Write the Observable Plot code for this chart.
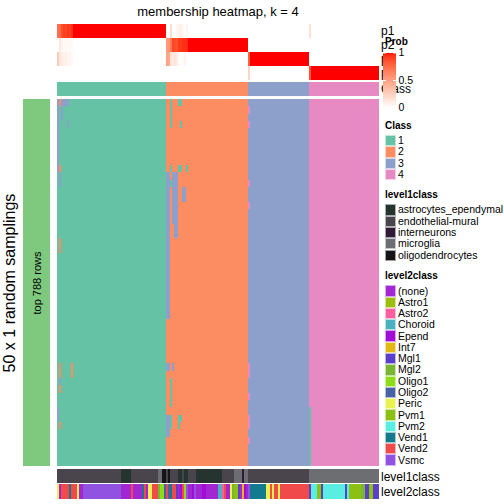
<!DOCTYPE html>
<html>
<head>
<meta charset="utf-8">
<script src="https://cdn.jsdelivr.net/npm/d3@7"></script>
<script src="https://cdn.jsdelivr.net/npm/@observablehq/plot@0.6"></script>
<style>
  html, body { margin: 0; padding: 0; background: #fff; }
  #root { position: relative; width: 504px; height: 504px; overflow: hidden; font-family: "Liberation Sans", Arial, sans-serif; color: #000; }
  .lbl { position: absolute; white-space: nowrap; transform: translateY(-50%); line-height: 1; }
  .sw { position: absolute; box-sizing: border-box; }
</style>
</head>
<body>
<div id="root"></div>
<script>
// ---------------- data ----------------
const chartTitle = "membership heatmap, k = 4";
const rowTitle = "50 x 1 random samplings";
const rowGroups = ["top 788 rows"];
const nSamplings = 50;

const classNames = ["1", "2", "3", "4"];
const classColors = ["#66C2A5", "#FC8D62", "#8DA0CB", "#E78AC3"];
const classRuns = [54, 41, 30, 35]; // consensus class sizes (columns)

const probRows = ["p1", "p2", "p3", "p4"];
// [column, p1, p2, p3, p4] for columns not fully certain
const probExceptions = [
  [0, .72, 0, .28, 0], [1, .75, .12, .13, 0], [2, .85, .05, .10, 0], [3, .90, .03, .07, 0],
  [4, .88, .04, .08, 0], [5, .92, .03, .05, 0], [6, .90, .04, .06, 0], [7, .94, .02, .04, 0],
  [54, 0, .52, .48, 0], [55, 0, .55, .45, 0], [56, .18, .68, .14, 0], [57, 0, .88, .12, 0],
  [58, 0, .86, .14, 0], [59, .05, .85, .10, 0], [60, .06, .92, .02, 0], [61, .08, .92, 0, 0],
  [62, .04, .94, .02, 0], [63, 0, .94, .06, 0], [64, .05, .95, 0, 0],
  [95, 0, 0, .78, .22], [125, .16, 0, 0, .84]
];

// [column, firstRow, lastRow, class] where a sampling disagrees with the consensus
const deviations = [
  [0, 0, 9, 3], [0, 42, 43, 3],
  [1, 0, 0, 2], [1, 9, 9, 2], [1, 10, 11, 3], [1, 19, 20, 2], [1, 36, 37, 2], [1, 38, 38, 3], [1, 39, 39, 2], [1, 44, 44, 2],
  [2, 0, 2, 3], [3, 0, 0, 3], [4, 0, 0, 3], [5, 0, 0, 3], [5, 3, 3, 3], [7, 36, 37, 2],
  [54, 10, 29, 3], [55, 10, 29, 3], [54, 36, 36, 3], [55, 36, 36, 3], [54, 43, 45, 3], [55, 43, 45, 3],
  [56, 0, 3, 1], [56, 9, 9, 1], [56, 11, 11, 1], [56, 38, 41, 1], [56, 43, 44, 1],
  [57, 10, 16, 3], [58, 10, 18, 3], [59, 10, 18, 3], [57, 36, 36, 3],
  [60, 0, 0, 1], [61, 0, 0, 1], [60, 9, 9, 1], [61, 9, 9, 1], [60, 43, 44, 1], [61, 43, 43, 1], [61, 3, 3, 1],
  [62, 12, 13, 3], [63, 12, 13, 3], [64, 9, 9, 1],
  [95, 1, 1, 4], [95, 3, 3, 4], [95, 11, 11, 4], [95, 14, 14, 4], [95, 36, 37, 4], [95, 40, 40, 4], [95, 43, 44, 4], [95, 46, 46, 4],
  [125, 42, 49, 1]
];

const level1Names = ["astrocytes_ependymal", "endothelial-mural", "interneurons", "microglia", "oligodendrocytes"];
const level1Colors = ["#263430", "#4A454C", "#311A36", "#6C6E72", "#141517"];
const level1Runs = [
  ["endothelial-mural", 32], ["astrocytes_ependymal", 5], ["endothelial-mural", 13], ["microglia", 2],
  ["oligodendrocytes", 2], ["endothelial-mural", 1], ["oligodendrocytes", 1], ["endothelial-mural", 4],
  ["astrocytes_ependymal", 2], ["endothelial-mural", 1], ["astrocytes_ependymal", 2], ["endothelial-mural", 4],
  ["astrocytes_ependymal", 13], ["endothelial-mural", 6], ["microglia", 4], ["interneurons", 1],
  ["microglia", 2], ["endothelial-mural", 30], ["microglia", 35]
];

const level2Names = ["(none)", "Astro1", "Astro2", "Choroid", "Epend", "Int7", "Mgl1", "Mgl2", "Oligo1", "Oligo2", "Peric", "Pvm1", "Pvm2", "Vend1", "Vend2", "Vsmc"];
const level2Colors = ["#A227D2", "#9EBE0E", "#FF5E9E", "#4BB0C0", "#A10DD6", "#E4B813", "#5B3FCB", "#78B634", "#8FDD19", "#4862A8", "#E9F24F", "#8CC012", "#5AEDE1", "#147A8E", "#F04A4A", "#9152E2"];
const level2Runs = [
  ["Peric", 1], ["(none)", 1], ["Vend2", 4], ["Vend1", 1], ["Vend2", 3], ["Peric", 1], ["(none)", 2], ["Vsmc", 19],
  ["(none)", 5], ["Vend2", 1], ["(none)", 4], ["Vend1", 1], ["Vend2", 1], ["(none)", 1], ["Peric", 2], ["Vend2", 3],
  ["Mgl2", 1], ["Oligo1", 2], ["Oligo2", 1], ["Vend2", 1], ["Oligo2", 1], ["Vend1", 1], ["Vend2", 2], ["Mgl1", 1],
  ["(none)", 1], ["Epend", 1], ["Vend2", 1], ["Oligo1", 1], ["Vsmc", 1], ["(none)", 2], ["Epend", 1], ["Vsmc", 1],
  ["(none)", 3], ["Epend", 2], ["(none)", 6], ["Choroid", 2], ["Astro2", 1], ["Vend2", 1], ["(none)", 2], ["Peric", 1],
  ["Mgl2", 1], ["Pvm1", 2], ["Mgl1", 1], ["(none)", 1], ["Int7", 1], ["Epend", 1], ["(none)", 1], ["Vsmc", 1],
  ["Vend1", 8], ["Peric", 2], ["Vend2", 1], ["Peric", 1], ["Vend2", 2], ["Peric", 1], ["Vend2", 14],
  ["Mgl1", 1], ["Pvm2", 3], ["Pvm1", 2], ["Mgl1", 1], ["Pvm2", 11], ["Mgl1", 1], ["Pvm2", 1], ["Pvm1", 6],
  ["Mgl2", 2], ["Mgl1", 2], ["Pvm1", 2], ["Mgl1", 3]
];

// ---------------- derived tables ----------------
const N = d3.sum(classRuns);
function runsToSegments(runs) {
  let x = 0;
  return runs.map(([key, n]) => { const s = {key, x1: x, x2: x + n}; x += n; return s; });
}
const classSegs = runsToSegments(classRuns.map((n, i) => [classNames[i], n]));
const consensus = [];
classSegs.forEach(s => { for (let i = s.x1; i < s.x2; i++) consensus.push(s.key); });

const excMap = new Map(probExceptions.map(e => [e[0], e.slice(1)]));
const probCells = [];
for (let i = 0; i < N; i++) {
  const p = excMap.get(i) || classNames.map(c => (c === consensus[i] ? 1 : 0));
  probRows.forEach((r, k) => probCells.push({row: r, x1: i, x2: i + 1, p: p[k]}));
}
const devCells = deviations.map(([c, r0, r1, k]) => ({x1: c, x2: c + 1, y1: r0, y2: r1 + 1, cls: String(k)}));
const l1Segs = runsToSegments(level1Runs);
const l2Segs = runsToSegments(level2Runs);

// ---------------- layout ----------------
const root = document.getElementById("root");
const FONT = '"Liberation Sans", Arial, sans-serif';
const X0 = 57, XW = 322;
const probColor = {type: "linear", domain: [0, 1], range: ["#FFFFFF", "#FF0000"], interpolate: "lab"};
const classColor = {domain: classNames, range: classColors};

function place(el, left, top) {
  el.style.position = "absolute";
  el.style.left = left + "px";
  el.style.top = top + "px";
  root.append(el);
  return el;
}
function label(text, x, y, size, opts = {}) {
  const d = document.createElement("div");
  d.className = "lbl";
  d.textContent = text;
  d.style.left = x + "px";
  d.style.top = y + "px";
  d.style.fontSize = size + "px";
  if (opts.bold) d.style.fontWeight = "bold";
  if (opts.center) d.style.transform = "translate(-50%,-50%)";
  if (opts.rotate) d.style.transform = "translate(-50%,-50%) rotate(-90deg)";
  root.append(d);
  return d;
}
const base = {margin: 0, style: {fontFamily: FONT, background: "transparent", overflow: "visible"}};
const crisp = {shapeRendering: "crispEdges"};

// title
label(chartTitle, 218, 11, 13, {center: true});

// annotation names (drawn beneath legend)
probRows.forEach((r, k) => label(r, 381, 31 + k * 14, 12));
label("Class", 381, 89, 12);

// probability strips
place(Plot.plot({
  ...base, width: XW, height: 56,
  x: {domain: [0, N], axis: null},
  y: {type: "band", domain: probRows, padding: 0, axis: null},
  color: probColor,
  marks: [Plot.barX(probCells, {x1: "x1", x2: "x2", y: "row", fill: "p", ...crisp})]
}), X0, 24);

// class strip
place(Plot.plot({
  ...base, width: XW, height: 14,
  x: {domain: [0, N], axis: null},
  color: classColor,
  marks: [Plot.barX(classSegs, {x1: "x1", x2: "x2", fill: "key", ...crisp})]
}), X0, 82);

// main membership heatmap
place(Plot.plot({
  ...base, width: XW, height: 367,
  x: {domain: [0, N], axis: null},
  y: {domain: [0, nSamplings], range: [0, 367], axis: null},
  color: classColor,
  marks: [
    Plot.barX(classSegs, {x1: "x1", x2: "x2", fill: "key", ...crisp}),
    Plot.rect(devCells, {x1: "x1", x2: "x2", y1: "y1", y2: "y2", fill: "cls", ...crisp})
  ]
}), X0, 99);

// left row-group bar
place(Plot.plot({
  ...base, width: 27, height: 367,
  x: {domain: [0, 1], axis: null},
  marks: [
    Plot.barX(rowGroups, {x1: () => 0, x2: () => 1, fill: "#7FC97F", ...crisp}),
    Plot.text(rowGroups, {text: d => d, frameAnchor: "middle", rotate: -90, fontSize: 11, fill: "#000"})
  ]
}), 23, 99);
label(rowTitle, 10, 283, 16, {rotate: true});

// bottom annotations
place(Plot.plot({
  ...base, width: XW, height: 14,
  x: {domain: [0, N], axis: null},
  color: {domain: level1Names, range: level1Colors},
  marks: [Plot.barX(l1Segs, {x1: "x1", x2: "x2", fill: "key", ...crisp})]
}), X0, 469);
place(Plot.plot({
  ...base, width: XW, height: 15,
  x: {domain: [0, N], axis: null},
  color: {domain: level2Names, range: level2Colors},
  marks: [Plot.barX(l2Segs, {x1: "x1", x2: "x2", fill: "key", ...crisp})]
}), X0, 484);
label("level1class", 381, 477, 12);
label("level2class", 381, 492, 12);

// Prob legend
label("Prob", 385, 42, 10, {bold: true});
const steps = d3.range(0, 1, 0.01);
place(Plot.plot({
  ...base, width: 50, height: 64,
  marginTop: 4.5, marginBottom: 4.5, marginLeft: 0, marginRight: 37,
  x: {domain: [0, 1], axis: null},
  y: {domain: [0, 1], axis: null},
  color: probColor,
  marks: [
    Plot.rect(steps, {x1: () => 0, x2: () => 1, y1: d => d, y2: d => Math.min(1, d + 0.0101), fill: d => d + 0.005, ...crisp}),
    Plot.ruleY([0.5, 1], {x1: () => 0, x2: () => 0.22, stroke: "#fff"}),
    Plot.ruleY([0.5, 1], {x1: () => 0.78, x2: () => 1, stroke: "#fff"}),
    Plot.axisY([0, 0.5, 1], {anchor: "right", tickSize: 0, tickPadding: 2, fontSize: 10.5, tickFormat: d => String(d)})
  ]
}), 383, 48);

// categorical legends
function catLegend(title, names, colors, titleY, top0, step) {
  label(title, 385, titleY, 10, {bold: true});
  names.forEach((n, i) => {
    const s = document.createElement("div");
    s.className = "sw";
    s.style.width = "11px";
    s.style.height = step + "px";
    s.style.background = colors[i];
    s.style.border = "1px solid rgba(255,255,255,0.6)";
    place(s, 384.5, top0 + i * step);
    label(n, 398, top0 + i * step + step / 2 - 0.5, 10.5);
  });
}
catLegend("Class", classNames, classColors, 126, 135, 11.3);
catLegend("level1class", level1Names, level1Colors, 195, 204.3, 11.3);
catLegend("level2class", level2Names, level2Colors, 275.7, 285.4, 11.27);
</script>
</body>
</html>
